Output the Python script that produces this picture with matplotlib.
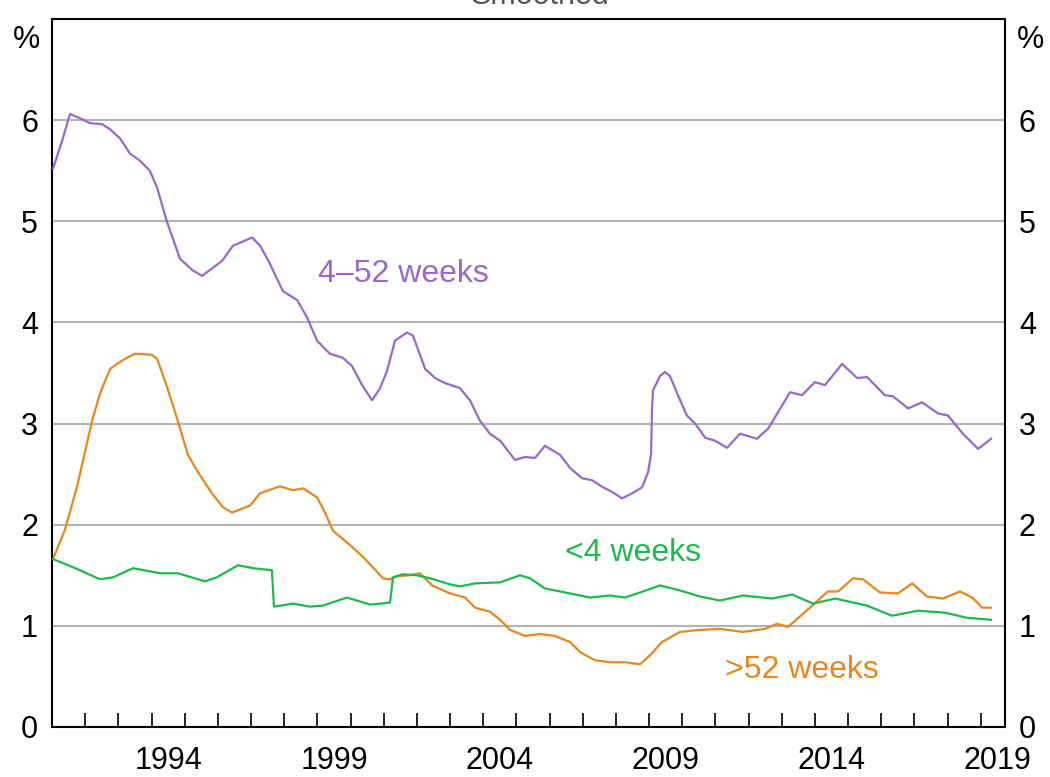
import numpy as np
import matplotlib
matplotlib.use("Agg")
import matplotlib.pyplot as plt
from matplotlib.ticker import FixedLocator, NullFormatter

plt.rcParams['font.family'] = ['Liberation Sans', 'DejaVu Sans']

# 4-52 weeks
mid_years = [1991.03, 1991.30, 1991.54, 1991.84, 1992.15, 1992.51, 1992.75, 1993.05, 1993.35, 1993.65,
             1993.95, 1994.17, 1994.47, 1994.86, 1995.22, 1995.52, 1995.85, 1996.13, 1996.46, 1996.76,
             1997.03, 1997.27, 1997.57, 1997.96, 1998.39, 1998.69, 1998.99, 1999.38, 1999.77, 2000.04,
             2000.35, 2000.65, 2000.89, 2001.10, 2001.34, 2001.70, 2001.88, 2002.25, 2002.55, 2002.85,
             2003.30, 2003.60, 2003.90, 2004.20, 2004.51, 2004.96, 2005.26, 2005.56, 2005.86, 2006.32,
             2006.62, 2006.98, 2007.28, 2007.61, 2007.91, 2008.18, 2008.49, 2008.79, 2008.97, 2009.06,
             2009.09, 2009.12, 2009.33, 2009.48, 2009.63, 2009.87, 2010.14, 2010.39, 2010.69, 2010.99,
             2011.35, 2011.74, 2012.25, 2012.59, 2013.25, 2013.61, 2014.00, 2014.30, 2014.82, 2015.27,
             2015.57, 2016.11, 2016.35, 2016.81, 2017.23, 2017.71, 2018.01, 2018.46, 2018.92, 2019.31]
mid_vals = [5.52, 5.79, 6.06, 6.02, 5.97, 5.96, 5.91, 5.82, 5.67, 5.60,
            5.50, 5.33, 4.99, 4.63, 4.52, 4.46, 4.54, 4.61, 4.76, 4.80,
            4.84, 4.76, 4.58, 4.31, 4.22, 4.05, 3.82, 3.69, 3.65, 3.57,
            3.38, 3.23, 3.35, 3.52, 3.82, 3.90, 3.87, 3.54, 3.45, 3.40,
            3.35, 3.23, 3.03, 2.90, 2.83, 2.64, 2.67, 2.66, 2.78, 2.69,
            2.56, 2.46, 2.44, 2.37, 2.32, 2.26, 2.31, 2.37, 2.52, 2.70,
            3.16, 3.33, 3.47, 3.51, 3.47, 3.28, 3.08, 3.00, 2.86, 2.83,
            2.76, 2.90, 2.85, 2.95, 3.31, 3.28, 3.41, 3.38, 3.59, 3.45,
            3.46, 3.28, 3.27, 3.15, 3.21, 3.10, 3.08, 2.90, 2.75, 2.85]

# >52 weeks
long_years = [1991.03, 1991.39, 1991.75, 1992.21, 1992.45, 1992.75, 1992.96, 1993.20, 1993.50, 1994.01,
              1994.17, 1994.47, 1994.77, 1995.10, 1995.40, 1995.82, 1996.16, 1996.43, 1996.97, 1997.27,
              1997.87, 1998.27, 1998.57, 1998.99, 1999.23, 1999.47, 1999.98, 2000.38, 2000.98, 2001.19,
              2001.40, 2001.79, 2002.09, 2002.46, 2003.00, 2003.45, 2003.75, 2004.20, 2004.51, 2004.81,
              2005.26, 2005.71, 2006.16, 2006.62, 2006.92, 2007.37, 2007.82, 2008.27, 2008.73, 2009.03,
              2009.39, 2009.93, 2010.54, 2011.14, 2011.83, 2012.49, 2012.86, 2013.19, 2013.85, 2014.39,
              2014.70, 2015.15, 2015.45, 2015.96, 2016.50, 2016.93, 2017.38, 2017.86, 2018.37, 2018.74,
              2019.04, 2019.31]
long_vals = [1.66, 1.95, 2.37, 3.03, 3.30, 3.54, 3.59, 3.64, 3.69, 3.68,
             3.64, 3.36, 3.05, 2.69, 2.52, 2.31, 2.17, 2.12, 2.19, 2.31,
             2.38, 2.34, 2.36, 2.27, 2.12, 1.94, 1.80, 1.68, 1.47, 1.46,
             1.49, 1.50, 1.52, 1.40, 1.32, 1.28, 1.18, 1.14, 1.06, 0.96,
             0.90, 0.92, 0.90, 0.84, 0.74, 0.66, 0.64, 0.64, 0.62, 0.71,
             0.84, 0.94, 0.96, 0.97, 0.94, 0.97, 1.02, 0.99, 1.18, 1.34,
             1.34, 1.47, 1.46, 1.33, 1.32, 1.42, 1.29, 1.27, 1.34, 1.28,
             1.18, 1.18]

# <4 weeks
short_years = [1991.03, 1991.63, 1992.45, 1992.84, 1993.44, 1994.26, 1994.80, 1995.61, 1995.97, 1996.61,
               1997.06, 1997.63, 1997.69, 1998.27, 1998.78, 1999.17, 1999.89, 2000.59, 2001.19, 2001.28,
               2001.58, 2002.00, 2002.40, 2003.00, 2003.30, 2003.75, 2004.51, 2005.11, 2005.41, 2005.86,
               2006.47, 2007.22, 2007.82, 2008.27, 2008.73, 2009.33, 2009.93, 2010.54, 2011.14, 2011.83,
               2012.71, 2013.31, 2013.94, 2014.61, 2015.57, 2016.32, 2017.11, 2017.92, 2018.58, 2019.31]
short_vals = [1.66, 1.58, 1.46, 1.48, 1.57, 1.52, 1.52, 1.44, 1.48, 1.60,
              1.57, 1.55, 1.19, 1.22, 1.19, 1.20, 1.28, 1.21, 1.23, 1.48,
              1.51, 1.50, 1.47, 1.41, 1.39, 1.42, 1.43, 1.50, 1.47, 1.37,
              1.33, 1.28, 1.30, 1.28, 1.33, 1.40, 1.35, 1.29, 1.25, 1.30,
              1.27, 1.31, 1.22, 1.27, 1.20, 1.10, 1.15, 1.13, 1.08, 1.06]

year_labels = [1994, 1999, 2004, 2009, 2014, 2019]
y_ticks = [0, 1, 2, 3, 4, 5, 6]

purple = '#9a68cc'
orange = '#e8871e'
green = '#1fb84c'

fig = plt.figure(figsize=(10.5, 7.77), dpi=100)
ax = fig.add_axes([52 / 1050, 1 - 727 / 777, 953 / 1050, 708 / 777])

for y in y_ticks[1:]:
    ax.axhline(y, color='#b4b4b4', lw=1.5, zorder=1)

ax.plot(mid_years, mid_vals, color=purple, lw=1.6, zorder=3)
ax.plot(long_years, long_vals, color=orange, lw=1.6, zorder=3)
ax.plot(short_years, short_vals, color=green, lw=1.6, zorder=3)

ax.set_xlim(1991, 2019.73)
ax.set_ylim(0, 7)

# year ticks at year boundaries, labels mid-year
ax.xaxis.set_major_locator(FixedLocator(np.arange(1992, 2020)))
ax.xaxis.set_major_formatter(NullFormatter())
ax.xaxis.set_minor_locator(FixedLocator([y + 0.5 for y in year_labels]))
ax.set_xticklabels([str(y) for y in year_labels], minor=True)
ax.tick_params(axis='x', which='major', direction='in', length=10, width=1.2, color='black')
ax.tick_params(axis='x', which='minor', length=0, labelsize=22, pad=14)

ax.set_yticks(y_ticks)
ax.set_yticklabels([str(v) for v in y_ticks])
ax.tick_params(axis='y', length=0, labelsize=22, pad=10, labelleft=True, labelright=True)

for s in ax.spines.values():
    s.set_linewidth(1.5)
    s.set_color('black')

fig.text(26 / 1050, 1 - 40 / 777, '%', fontsize=22, ha='center', va='center')
fig.text(1030 / 1050, 1 - 40 / 777, '%', fontsize=22, ha='center', va='center')
# title sits mostly above the top edge, as in the reference
fig.text(540 / 1050, 1 - 4 / 777, 'Smoothed', fontsize=22, ha='center', va='baseline', color='#555555')

ax.text(2001.58, 4.48, '4\u201352 weeks', color=purple, fontsize=23, ha='center', va='center')
ax.text(2008.52, 1.72, '<4 weeks', color=green, fontsize=23, ha='center', va='center')
ax.text(2013.61, 0.56, '>52 weeks', color=orange, fontsize=23, ha='center', va='center')

fig.savefig('out.png', dpi=100)
